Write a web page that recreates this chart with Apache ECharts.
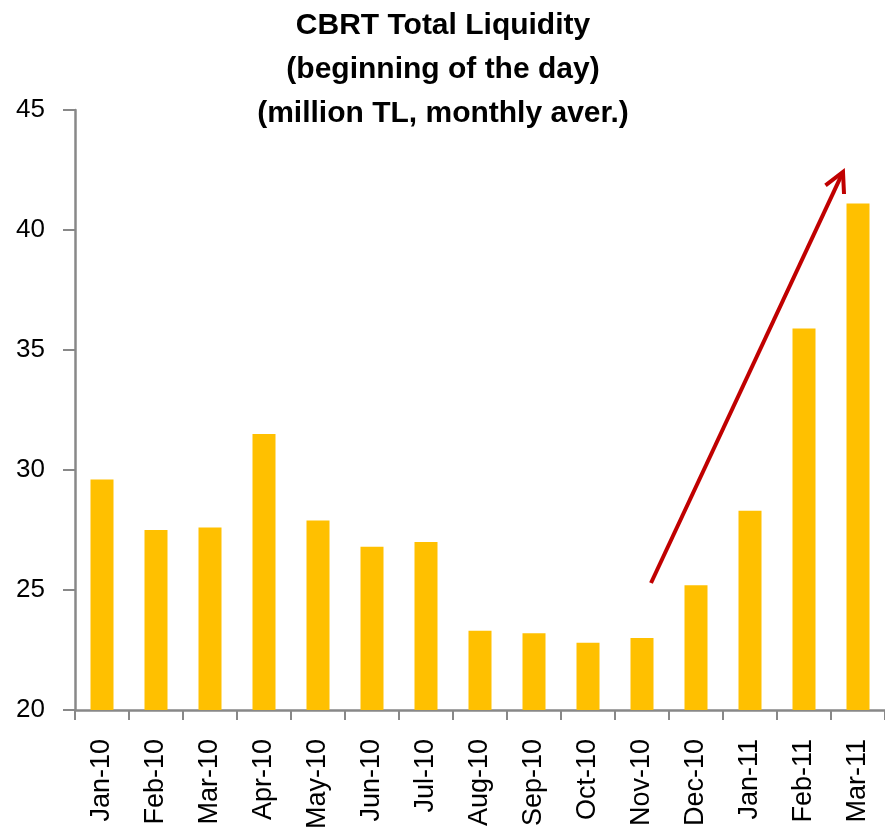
<!DOCTYPE html>
<html>
<head>
<meta charset="utf-8">
<script src="https://cdn.jsdelivr.net/npm/echarts@6/dist/echarts.min.js"></script>
<style>
html,body{margin:0;padding:0;background:#fff;}
#chart{width:885px;height:832px;}
</style>
</head>
<body>
<div id="chart"></div>
<script>
const categories = ["Jan-10","Feb-10","Mar-10","Apr-10","May-10","Jun-10","Jul-10","Aug-10","Sep-10","Oct-10","Nov-10","Dec-10","Jan-11","Feb-11","Mar-11"];
const liquidity = [29.6, 27.5, 27.6, 31.5, 27.9, 26.8, 27.0, 23.3, 23.2, 22.8, 23.0, 25.2, 28.3, 35.9, 41.1];
const yTicks = {min: 20, max: 45, interval: 5};
const titleLines = ["CBRT Total Liquidity", "(beginning of the day)", "(million TL, monthly aver.)"];

const chart = echarts.init(document.getElementById('chart'), null, {renderer: 'canvas'});

// arrow annotation (pixel space)
const a0 = [651, 583], a1 = [843, 172];
const dx = a1[0] - a0[0], dy = a1[1] - a0[1];
const len = Math.sqrt(dx * dx + dy * dy);
const ux = dx / len, uy = dy / len;
const headLen = 22, ang = Math.PI / 6.5;
function rot(x, y, t) { return [x * Math.cos(t) - y * Math.sin(t), x * Math.sin(t) + y * Math.cos(t)]; }
const h1 = rot(-ux, -uy, ang), h2 = rot(-ux, -uy, -ang);

chart.setOption({
  animation: false,
  backgroundColor: '#ffffff',
  title: {
    text: titleLines.join('\n'),
    left: 438,
    textAlign: 'center',
    top: -1,
    textStyle: {
      fontFamily: 'Liberation Sans',
      fontWeight: 'bold',
      fontSize: 30,
      lineHeight: 44,
      color: '#000'
    }
  },
  grid: {left: 75, right: -8, top: 110, bottom: 121.5, containLabel: false},
  xAxis: {
    type: 'category',
    data: categories,
    axisLine: {lineStyle: {color: '#888', width: 2.5}},
    axisTick: {show: true, length: 10, lineStyle: {color: '#888', width: 2}},
    axisLabel: {
      rotate: 90,
      margin: 29,
      interval: 0,
      fontFamily: 'Liberation Sans',
      fontSize: 27,
      color: '#000'
    },
    splitLine: {show: false}
  },
  yAxis: {
    type: 'value',
    min: yTicks.min,
    max: yTicks.max,
    interval: yTicks.interval,
    axisLine: {show: true, lineStyle: {color: '#888', width: 2.5}},
    axisTick: {show: true, length: 12, lineStyle: {color: '#888', width: 2}},
    axisLabel: {
      margin: 30,
      fontFamily: 'Liberation Sans',
      fontSize: 26,
      color: '#000'
    },
    splitLine: {show: false}
  },
  series: [{
    type: 'bar',
    data: liquidity,
    barWidth: 23,
    itemStyle: {color: '#FFC000'}
  }],
  graphic: [
    {
      type: 'line',
      shape: {x1: a0[0], y1: a0[1], x2: a1[0] - ux * 4, y2: a1[1] - uy * 4},
      style: {stroke: '#C00000', lineWidth: 4},
      z: 100
    },
    {
      type: 'polyline',
      shape: {points: [
        [a1[0] + h1[0] * headLen, a1[1] + h1[1] * headLen],
        [a1[0], a1[1]],
        [a1[0] + h2[0] * headLen, a1[1] + h2[1] * headLen]
      ]},
      style: {stroke: '#C00000', lineWidth: 4, fill: null, lineJoin: 'miter'},
      z: 100
    }
  ]
});
</script>
</body>
</html>
